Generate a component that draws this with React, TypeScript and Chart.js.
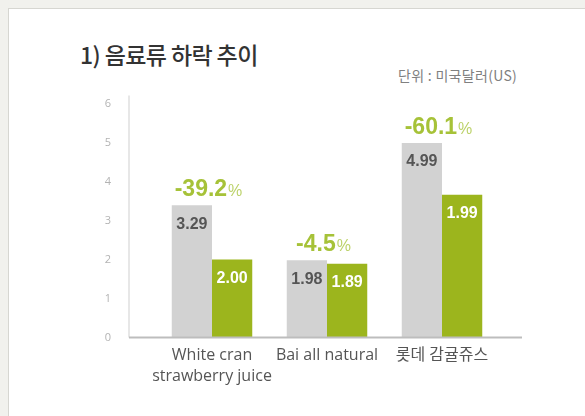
import React, { useEffect, useRef } from "react";
import { Chart, registerables } from "chart.js";

Chart.register(...registerables);

// ---- data ----
const categories: (string | string[])[] = [["White cran", "strawberry juice"], "Bai all natural", "롯데 감귤쥬스"];
// bar heights as drawn against the 0–6 axis
const beforeHeights = [3.39, 1.98, 4.99];
const afterHeights = [2.0, 1.89, 3.66];
// printed value labels
const beforeLabels = ["3.29", "1.98", "4.99"];
const afterLabels = ["2.00", "1.89", "1.99"];
const changeLabels = ["-39.2", "-4.5", "-60.1"];
const yMin = 0;
const yMax = 6;
const yStep = 1;

const titleText = "1) 음료류 하락 추이";
const unitText = "단위 : 미국달러(US)";

const GRAY = "#d2d2d2";
const GREEN = "#9cb51d";
const PCT_GREEN = "#a6c238";

const decorPlugin = {
  id: "decor",
  afterDraw(chart: any) {
    const { ctx, chartArea } = chart;
    const y = chart.scales.y;
    const base = y.getPixelForValue(0);
    const axisX = chartArea.left - 25.5;
    ctx.save();
    // y axis line
    ctx.strokeStyle = "#cfcfcf";
    ctx.lineWidth = 1;
    ctx.beginPath();
    ctx.moveTo(axisX, y.getPixelForValue(yMax) - 8);
    ctx.lineTo(axisX, base);
    ctx.stroke();
    // x axis line
    ctx.strokeStyle = "#bdbdbd";
    ctx.lineWidth = 2;
    ctx.beginPath();
    ctx.moveTo(axisX, base);
    ctx.lineTo(chartArea.right + 22.5, base);
    ctx.stroke();

    const m0 = chart.getDatasetMeta(0);
    const m1 = chart.getDatasetMeta(1);
    // value labels inside bars
    ctx.font = "bold 16px 'Liberation Sans', Arial, sans-serif";
    ctx.textAlign = "center";
    ctx.textBaseline = "middle";
    m0.data.forEach((bar: any, i: number) => {
      ctx.fillStyle = "#555555";
      ctx.fillText(beforeLabels[i], bar.x, bar.y + 19);
    });
    m1.data.forEach((bar: any, i: number) => {
      ctx.fillStyle = "#ffffff";
      ctx.fillText(afterLabels[i], bar.x, bar.y + 19);
    });
    // change labels above groups
    ctx.textBaseline = "alphabetic";
    ctx.textAlign = "left";
    m0.data.forEach((bar: any, i: number) => {
      const cx = (bar.x + m1.data[i].x) / 2 - 4;
      const by = bar.y - 9;
      const numFont = "bold 23px 'Liberation Sans', Arial, sans-serif";
      const pctFont = "16px 'Liberation Sans', Arial, sans-serif";
      ctx.font = numFont;
      const wn = ctx.measureText(changeLabels[i]).width;
      ctx.font = pctFont;
      const wp = ctx.measureText("%").width;
      const sx = cx - (wn + wp) / 2;
      ctx.font = numFont;
      ctx.fillStyle = PCT_GREEN;
      ctx.fillText(changeLabels[i], sx, by);
      ctx.font = pctFont;
      ctx.fillStyle = "#bcd26a";
      ctx.fillText("%", sx + wn + 1, by);
    });
    ctx.restore();
  },
};

export default function App() {
  const ref = useRef<HTMLCanvasElement | null>(null);
  useEffect(() => {
    if (!ref.current) return;
    const chart = new Chart(ref.current, {
      type: "bar",
      data: {
        labels: categories,
        datasets: [
          { label: "before", data: beforeHeights, backgroundColor: GRAY, categoryPercentage: 0.7, barPercentage: 1.0 },
          { label: "after", data: afterHeights, backgroundColor: GREEN, categoryPercentage: 0.7, barPercentage: 1.0 },
        ],
      },
      options: {
        responsive: false,
        animation: false,
        layout: { padding: { left: 0, top: 103.5, right: 85.5, bottom: 0 } },
        plugins: { legend: { display: false }, tooltip: { enabled: false }, title: { display: false } },
        scales: {
          x: {
            type: "category",
            grid: { display: false, drawTicks: false },
            border: { display: false },
            ticks: {
              color: "#555555",
              padding: 8,
              maxRotation: 0,
              autoSkip: false,
              font: { family: "'Open Sans', 'Noto Sans CJK KR', sans-serif", size: 16, lineHeight: 1.3 },
            },
            afterFit: (s: any) => {
              s.height = 78.5;
            },
          },
          y: {
            min: yMin,
            max: yMax,
            grid: { display: false, drawTicks: false },
            border: { display: false },
            ticks: {
              stepSize: yStep,
              color: "#b3b3b3",
              padding: 43.5,
              font: { family: "'Open Sans', sans-serif", size: 11 },
            },
            afterFit: (s: any) => {
              s.width = 154.5;
            },
          },
        },
      },
      plugins: [decorPlugin],
    });
    return () => chart.destroy();
  }, []);

  return (
    <div style={{ position: "absolute", left: 0, top: 0, width: 585, height: 416, background: "#f1f1ed", overflow: "hidden" }}>
      <div
        style={{
          position: "absolute",
          left: 8,
          top: 8,
          right: 0,
          bottom: 0,
          background: "#ffffff",
          borderTop: "1px solid #d6d6d1",
          borderLeft: "1px solid #d6d6d1",
        }}
      />
      <div
        style={{
          position: "absolute",
          left: 80,
          top: 37,
          fontFamily: "'Noto Sans CJK KR', sans-serif",
          fontSize: 23,
          fontWeight: 500,
          color: "#333333",
          whiteSpace: "nowrap",
          letterSpacing: -0.6,
        }}
      >
        {titleText}
      </div>
      <div
        style={{
          position: "absolute",
          left: 398,
          top: 65,
          fontFamily: "'Noto Sans CJK KR', sans-serif",
          fontSize: 14,
          color: "#808080",
          whiteSpace: "nowrap",
          letterSpacing: 0.3,
        }}
      >
        {unitText}
      </div>
      <canvas ref={ref} width={585} height={416} style={{ position: "absolute", left: 0, top: 0 }} />
    </div>
  );
}
